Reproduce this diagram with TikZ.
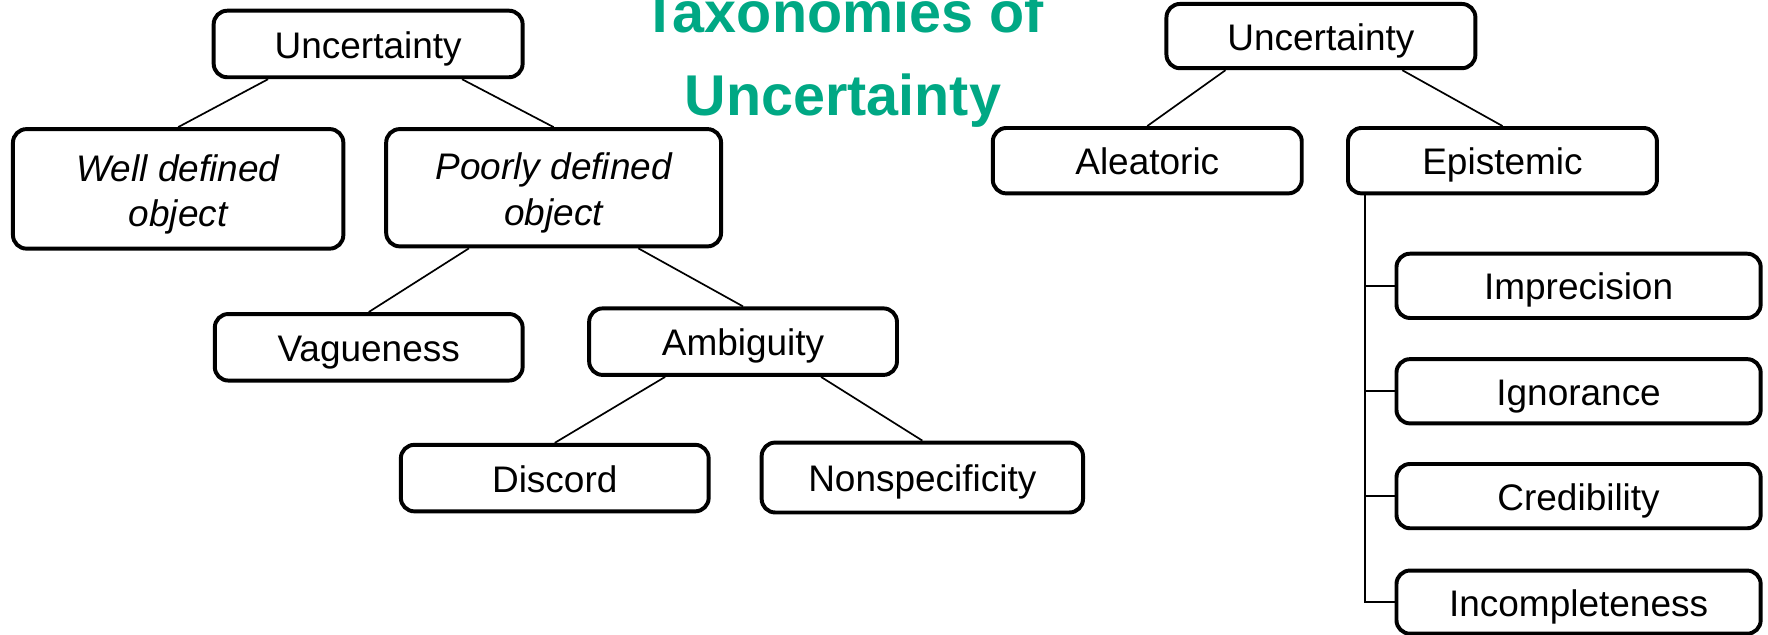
\documentclass[tikz,border=0pt]{standalone}
\usepackage{fontspec}
\setmainfont{Liberation Sans}
\usetikzlibrary{calc}
\definecolor{titlegreen}{RGB}{0,168,132}
\begin{document}
\begin{tikzpicture}[x=1pt,y=-1pt,
  box/.style={draw=black, line width=3.5pt, rounded corners=12pt, inner sep=0pt, align=center, font=\fontsize{32.8}{40}\selectfont},
  onebox/.style={box, text height=25pt, text depth=0pt},
  link/.style={draw=black, line width=1.5pt},
  bar/.style={draw=black, line width=1.8pt}]
\useasboundingbox (0,0) rectangle (1568,563);
\clip (0,0) rectangle (1568,563);
% title
\node[inner sep=0pt, align=center, text=titlegreen, font=\bfseries\fontsize{51}{73}\selectfont] (title) at (747.5,52.5) {Taxonomies of\\Uncertainty};
% left tree
\node[onebox, minimum width=274pt, minimum height=59pt] (u1) at (326.5,39) {Uncertainty};
\node[box, minimum width=293pt, minimum height=106pt] (well) at (158,167.5) {\itshape\rule{0pt}{33pt}Well defined\\\itshape object};
\node[box, minimum width=297pt, minimum height=104pt] (poor) at (491,166.5) {\itshape\rule{0pt}{33pt}Poorly defined\\\itshape object};
\node[onebox, minimum width=273pt, minimum height=59pt] (vag) at (327,308) {Vagueness};
\node[onebox, minimum width=273pt, minimum height=59pt] (amb) at (659,303) {Ambiguity};
\node[onebox, minimum width=273pt, minimum height=59pt] (disc) at (492,424) {Discord};
\node[onebox, minimum width=285pt, minimum height=62pt] (nons) at (818,423.5) {Nonspecificity};
\draw[link] ($(u1.south west)!0.18!(u1.south east)$) -- (well.north);
\draw[link] ($(u1.south west)!0.80!(u1.south east)$) -- (poor.north);
\draw[link] ($(poor.south west)!0.25!(poor.south east)$) -- (vag.north);
\draw[link] ($(poor.south west)!0.75!(poor.south east)$) -- (amb.north);
\draw[link] ($(amb.south west)!0.25!(amb.south east)$) -- (disc.north);
\draw[link] ($(amb.south west)!0.75!(amb.south east)$) -- (nons.north);
% right tree
\node[onebox, minimum width=274pt, minimum height=57pt] (u2) at (1171.5,32) {Uncertainty};
\node[onebox, minimum width=274pt, minimum height=58pt] (alea) at (1017.5,142.5) {Aleatoric};
\node[onebox, minimum width=274pt, minimum height=58pt] (epis) at (1332.5,142.5) {Epistemic};
\node[onebox, minimum width=323pt, minimum height=57pt] (impr) at (1400,253.5) {Imprecision};
\node[onebox, minimum width=323pt, minimum height=57pt] (igno) at (1400,347) {Ignorance};
\node[onebox, minimum width=323pt, minimum height=57pt] (cred) at (1400,440) {Credibility};
\node[onebox, minimum width=323pt, minimum height=56pt] (inco) at (1400,534) {Incompleteness};
\draw[link] ($(u2.south west)!0.195!(u2.south east)$) -- (alea.north);
\draw[link] ($(u2.south west)!0.76!(u2.south east)$) -- (epis.north);
\coordinate (ebar) at ($(epis.south west)!0.06!(epis.south east)$);
\draw[bar] (ebar) |- (inco.west);
\draw[bar] (ebar |- impr.west) -- (impr.west);
\draw[bar] (ebar |- igno.west) -- (igno.west);
\draw[bar] (ebar |- cred.west) -- (cred.west);
\end{tikzpicture}
\end{document}
